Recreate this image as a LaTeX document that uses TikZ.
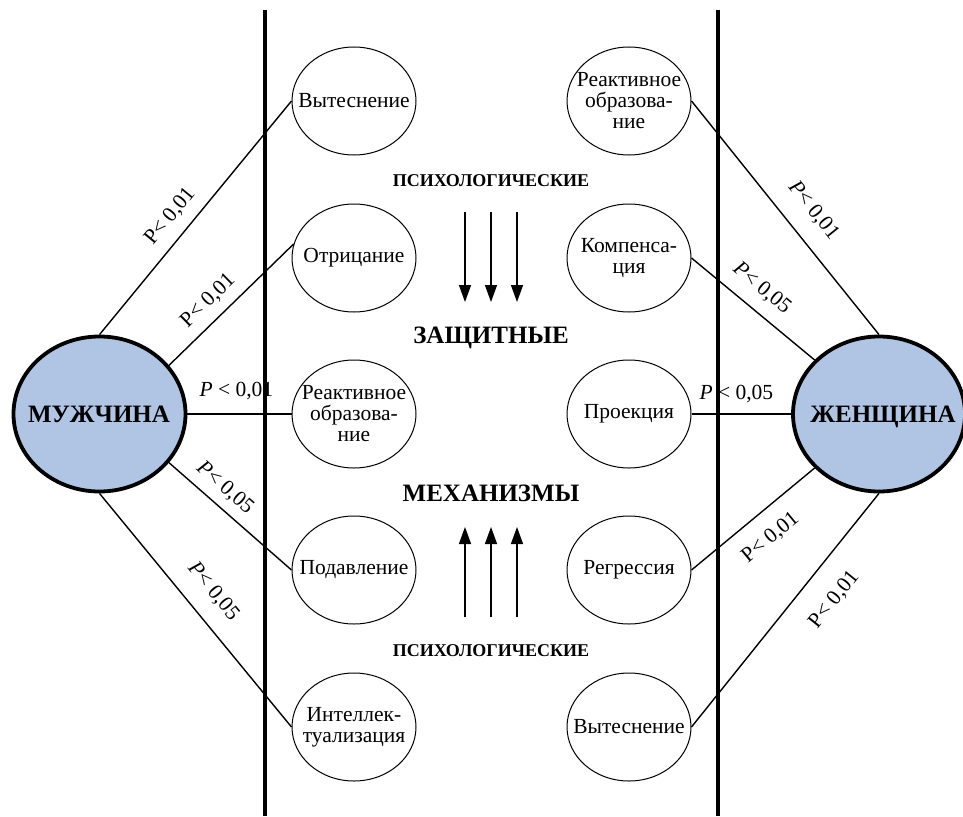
\documentclass[tikz,border=0pt]{standalone}
\usepackage{fontspec}
\setmainfont{Liberation Serif}
\usetikzlibrary{arrows.meta,shapes.geometric}
\definecolor{bigblue}{RGB}{176,196,228}
\begin{document}
\begin{tikzpicture}[x=1pt,y=-1pt,
  sm/.style={draw,ellipse,line width=1pt,minimum width=124pt,minimum height=108pt,inner sep=0pt},
  big/.style={draw,ellipse,line width=3.8pt,fill=bigblue,minimum width=172pt,minimum height=155pt,inner sep=0pt},
  txt/.style={font=\fontsize{21.5}{21}\selectfont,align=center,inner sep=0pt},
  bigtxt/.style={font=\bfseries\fontsize{25}{27}\selectfont,inner sep=0pt,anchor=base},
  head/.style={font=\bfseries\fontsize{18}{20}\selectfont,inner sep=0pt,anchor=base},
  headbig/.style={font=\bfseries\fontsize{25}{27}\selectfont,inner sep=0pt,anchor=base},
  con/.style={line width=1.4pt},
  wall/.style={line width=3.5pt},
  lab/.style={font=\fontsize{21.5}{23}\selectfont,inner sep=1pt,sloped},
  arr/.style={line width=1.4pt,-{Triangle[length=17pt,width=12pt]}}
]
\useasboundingbox (0,0) rectangle (963,816);
% walls
\coordinate (w1t) at (265,10); \coordinate (w1b) at (265,816);
\coordinate (w2t) at (718,10); \coordinate (w2b) at (718,816);
\draw[wall] (w1t) -- (w1b);
\draw[wall] (w2t) -- (w2b);
% big ellipses
\node[big] (M) at (99.5,414) {};
\node[bigtxt] (Mt) at (99,422) {МУЖЧИНА};
\node[big] (W) at (879,414) {};
\node[bigtxt] (Wt) at (883,422) {ЖЕНЩИНА};
% left column
\node[sm] (L1) at (354,101) {};
\node[txt] (L1t) at (L1) {Вытеснение};
\node[sm] (L2) at (354,258) {};
\node[txt] (L2t) at (L2) {Отрицание};
\node[sm] (L3) at (354,414) {};
\node[txt] (L3t) at (L3) {Реактивное\\образова-\\ние};
\node[sm] (L4) at (354,570) {};
\node[txt] (L4t) at (L4) {Подавление};
\node[sm] (L5) at (354,727) {};
\node[txt] (L5t) at (L5) {Интеллек-\\туализация};
% right column
\node[sm] (R1) at (629,101) {};
\node[txt] (R1t) at (R1) {Реактивное\\образова-\\ние};
\node[sm] (R2) at (629,258) {};
\node[txt] (R2t) at (R2) {Компенса-\\ция};
\node[sm] (R3) at (629,414) {};
\node[txt] (R3t) at (R3) {Проекция};
\node[sm] (R4) at (629,570) {};
\node[txt] (R4t) at (R4) {Регрессия};
\node[sm] (R5) at (629,727) {};
\node[txt] (R5t) at (R5) {Вытеснение};
% connectors left
\draw[con] (M.90) -- node[lab,pos=.45,above=10pt]{P< 0,01} (L1.west);
\draw[con] (M.35) -- node[lab,pos=.42,above=8.5pt]{P< 0,01} (L2.167);
\draw[con] (M.east) -- node[lab,pos=.47,above=12pt]{\itshape P\upshape\ < 0,01} (L3.west);
\draw[con] (M.-35) -- node[lab,pos=.36,above=7.5pt]{\itshape P\upshape< 0,05} (L4.west);
\draw[con] (M.-90) -- node[lab,pos=.49,above=15pt]{\itshape P\upshape< 0,05} (L5.west);
% connectors right
\draw[con] (R1.east) -- node[lab,pos=.54,above=16pt]{\itshape P\upshape< 0,01} (W.90);
\draw[con] (R2.east) -- node[lab,pos=.46,above=11pt]{\itshape P\upshape< 0,05} (W.140);
\draw[con] (R3.east) -- node[lab,pos=.45,above=9pt]{\itshape P\upshape\ < 0,05} (W.west);
\draw[con] (R4.east) -- node[lab,pos=.51,below=15pt]{P< 0,01} (W.220);
\draw[con] (R5.east) -- node[lab,pos=.63,below=21pt]{P< 0,01} (W.-90);
% central texts
\node[head] (h1) at (491,186) {ПСИХОЛОГИЧЕСКИЕ};
\node[headbig] (h2) at (491,343) {ЗАЩИТНЫЕ};
\node[headbig] (h3) at (491,501) {МЕХАНИЗМЫ};
\node[head] (h4) at (491,656) {ПСИХОЛОГИЧЕСКИЕ};
% arrows
\foreach \x/\n in {465/a,491/b,517/c}{
  \coordinate (d\n s) at (\x,212); \coordinate (d\n e) at (\x,302);
  \draw[arr] (d\n s) -- (d\n e);
  \coordinate (u\n s) at (\x,617); \coordinate (u\n e) at (\x,527);
  \draw[arr] (u\n s) -- (u\n e);
}
\end{tikzpicture}
\end{document}
